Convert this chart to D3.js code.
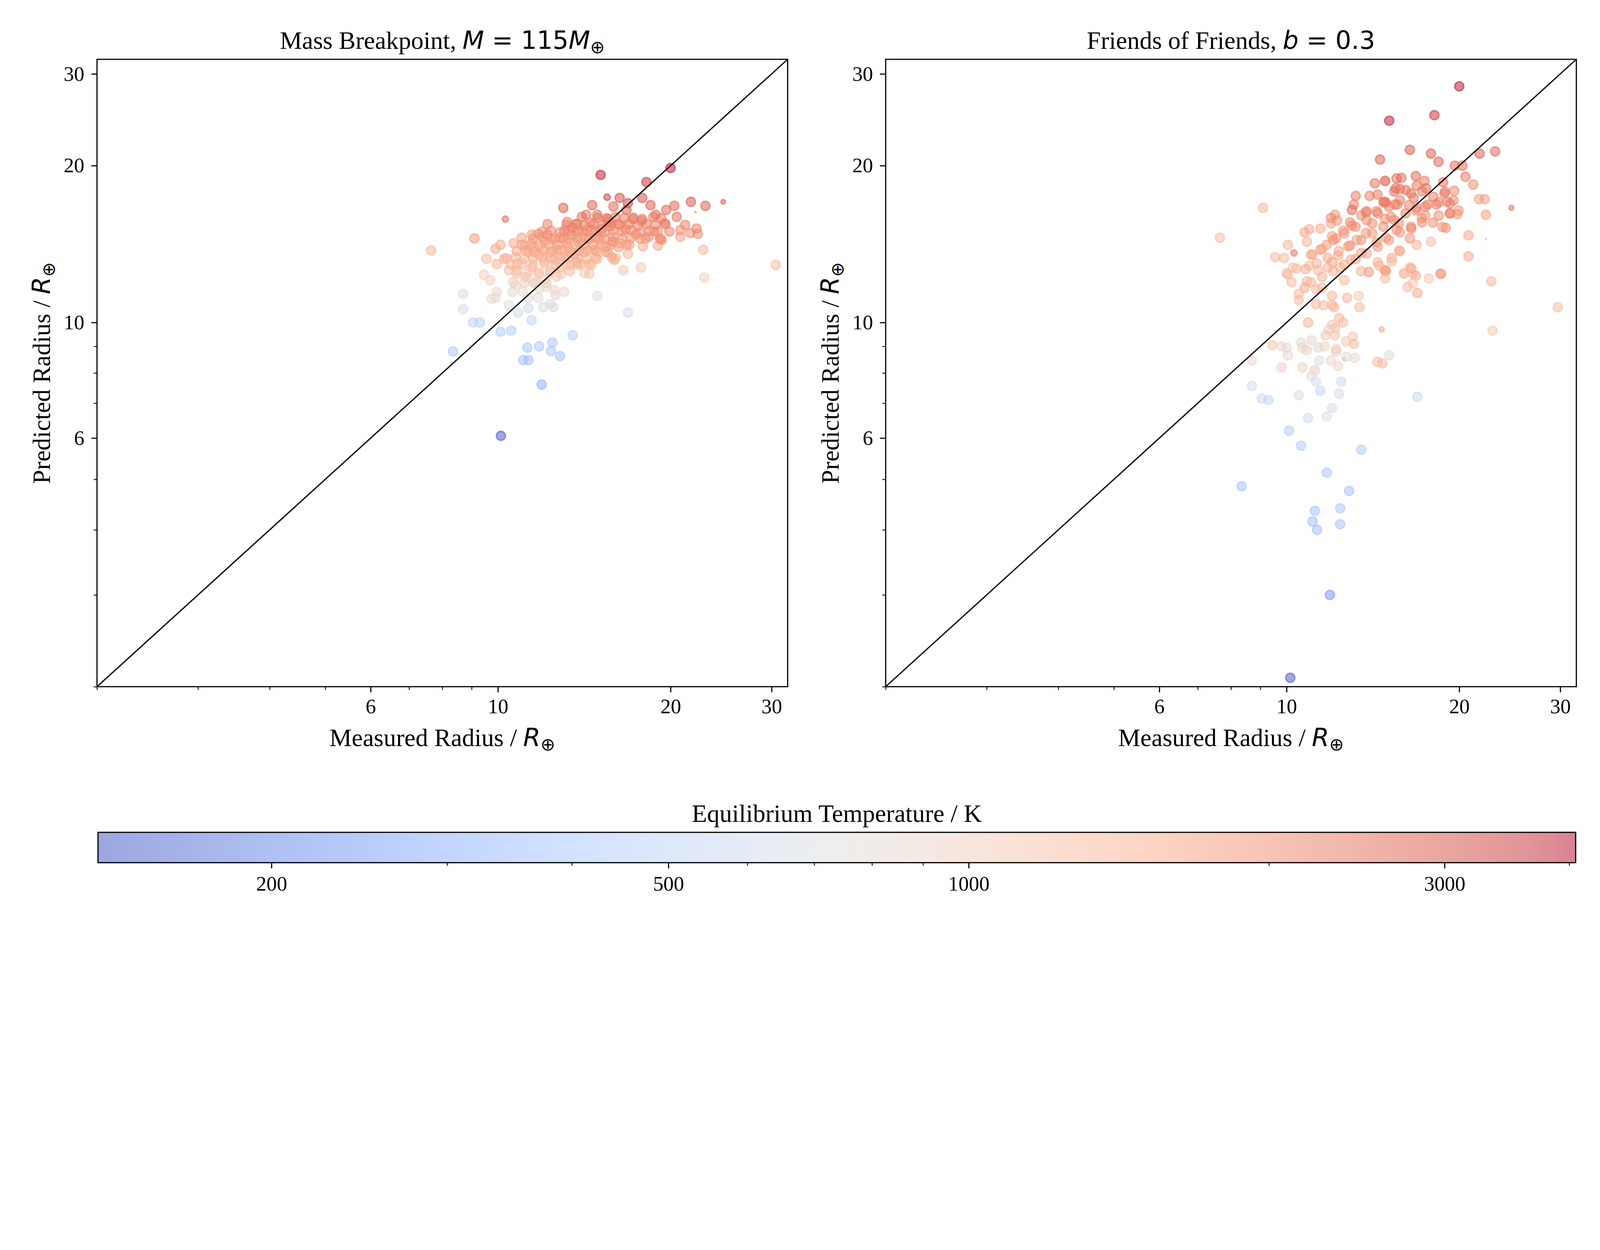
<!DOCTYPE html>
<html>
<head>
<style>
  html, body {
    margin: 0;
    width: 100%;
    height: 100%;
    overflow: hidden;
    background-color: #ffffff;
  }

  svg {
    display: block;
    width: 100vw;
    height: 100vh;
  }

  .serif {
    font-family: 'Liberation Serif', 'Times New Roman', serif;
  }

  .math {
    font-family: 'DejaVu Sans', sans-serif;
  }
</style>
  <script src="https://cdnjs.cloudflare.com/ajax/libs/d3/7.8.5/d3.min.js"></script>
</head>
<body>
<script>
  // axis limits and ticks (radius in Earth radii, temperature in K)
  const radiusLimits = [2, 32];
  const radiusTicks = [6, 10, 20, 30];
  const radiusMinorTicks = [2, 3, 4, 5, 7, 8, 9];
  const teqLimits = [134, 4060];
  const teqTicks = [200, 500, 1000, 3000];
  const teqMinorTicks = [300, 400, 600, 700, 800, 900, 2000, 4000];

  // [measured radius, predicted radius, equilibrium temperature, relative marker size]
  const massBreakpointPlanets = [
    [15.1, 19.2, 3900], [15.5, 17.4, 3400, 0.75], [13.0, 16.6, 2800], [14.6, 16.8, 2800],
    [15.9, 16.7, 2650], [10.3, 15.8, 2650, 0.72], [12.2, 15.45, 2150], [13.2, 15.6, 2150],
    [14.0, 15.95, 2450], [14.25, 16.1, 2450], [14.9, 16.1, 2450], [13.75, 15.45, 2300],
    [13.05, 15.0, 2300], [13.5, 15.2, 2150], [14.5, 15.55, 2150], [9.1, 14.5, 1800],
    [7.65, 13.75, 1400], [10.1, 14.1, 1550], [9.9, 13.85, 1550], [10.65, 14.2, 1550],
    [11.0, 14.55, 1700], [11.45, 14.75, 1700], [11.75, 14.8, 1850], [12.2, 14.75, 2000],
    [9.55, 13.25, 1300], [10.25, 13.25, 1400], [9.95, 12.95, 1400], [10.45, 12.6, 1300],
    [10.8, 12.55, 1300], [10.8, 12.95, 1400], [9.45, 12.35, 1000], [9.7, 12.05, 1000],
    [8.7, 11.35, 820], [8.7, 10.6, 650], [9.05, 10.0, 480], [9.3, 10.0, 480],
    [10.1, 9.6, 430], [10.55, 9.65, 430], [11.45, 10.1, 520], [9.95, 11.45, 850],
    [9.75, 11.1, 800], [9.9, 11.15, 800], [10.45, 10.8, 700], [10.75, 11.8, 850],
    [10.6, 11.45, 830], [11.05, 11.45, 800], [11.25, 12.2, 900], [11.3, 11.15, 780],
    [11.3, 10.65, 650], [10.85, 10.45, 620], [11.75, 11.15, 780], [12.0, 10.7, 680],
    [12.35, 10.85, 700], [12.5, 10.7, 680], [13.05, 11.45, 850], [12.55, 11.55, 870],
    [12.6, 11.3, 860], [14.9, 11.25, 800], [13.5, 9.45, 450], [12.45, 9.15, 400],
    [11.8, 9.0, 400], [11.25, 8.95, 400], [8.35, 8.8, 400],
    [12.05, 14.3, 1850], [12.55, 14.45, 1850], [13.0, 14.5, 2000], [13.45, 14.75, 2150],
    [14.05, 14.95, 2150], [14.6, 15.05, 2150], [15.15, 15.1, 2300], [15.7, 15.3, 2300],
    [15.55, 15.8, 2300], [15.0, 14.45, 2000], [14.4, 14.45, 2000], [13.8, 14.3, 1850],
    [13.25, 13.95, 1700], [12.7, 13.8, 1700], [12.3, 13.65, 1550], [11.8, 13.5, 1500],
    [11.3, 13.65, 1550], [11.15, 14.05, 1550], [11.55, 13.95, 1600], [12.05, 13.1, 1400],
    [12.55, 13.2, 1500], [13.05, 13.35, 1550], [13.6, 13.5, 1600], [14.15, 13.65, 1700],
    [14.75, 13.8, 1750], [15.4, 13.95, 1850], [15.85, 14.3, 2000], [15.8, 13.35, 1550],
    [14.9, 13.25, 1500], [14.55, 12.9, 1400], [13.95, 12.95, 1400], [13.4, 12.9, 1350],
    [12.85, 12.75, 1300], [12.35, 12.55, 1250], [11.8, 12.45, 1150], [11.45, 12.75, 1300],
    [11.15, 12.25, 1000], [11.55, 11.9, 950], [12.05, 12.1, 980], [12.65, 12.25, 1100],
    [13.35, 12.55, 1250], [14.15, 12.45, 1150], [14.45, 12.4, 1150], [15.95, 13.2, 1550],
    [12.15, 11.7, 900], [11.8, 11.6, 880], [13.7, 13.05, 1400],
    [20.0, 19.8, 4000], [18.15, 18.6, 3600], [16.3, 17.35, 3100], [16.85, 16.95, 3200],
    [16.75, 16.45, 2800], [17.85, 17.35, 3100], [18.45, 16.8, 2800], [19.65, 16.45, 2650],
    [20.3, 16.75, 2650], [21.7, 17.05, 2950], [23.0, 16.75, 2800], [24.7, 17.05, 2950, 0.57],
    [22.1, 16.3, 2650, 0.22], [20.5, 15.95, 2450], [18.85, 16.1, 2450], [17.2, 15.8, 2300],
    [17.8, 15.65, 2300], [19.6, 15.45, 2300], [21.2, 15.4, 2150], [22.2, 15.15, 2150],
    [20.8, 15.05, 2000], [21.65, 14.85, 2000], [22.3, 14.8, 2000], [20.8, 14.6, 1700],
    [19.9, 14.95, 2150], [19.2, 14.45, 2000], [18.7, 14.95, 2150], [18.1, 14.5, 2000],
    [17.4, 14.75, 2000], [16.7, 15.1, 2150], [16.2, 15.45, 2150], [15.55, 15.6, 2150],
    [16.95, 14.1, 1700], [17.9, 14.0, 1550], [19.0, 14.05, 1550], [19.3, 14.4, 1850],
    [16.85, 13.55, 1400], [16.05, 13.3, 1400], [22.8, 13.8, 1400], [16.55, 12.6, 1150],
    [17.75, 12.75, 1150], [22.9, 12.2, 1050], [30.5, 12.9, 1300], [16.85, 10.45, 620],
    [15.85, 14.3, 1850], [15.55, 13.65, 1700], [16.25, 13.95, 1750],
    [11.07, 8.47, 380], [11.3, 8.47, 380], [12.37, 8.81, 400], [12.83, 8.62, 380],
    [11.92, 7.6, 300], [10.12, 6.06, 140],
    // dense core of the cloud
    [14.93, 15.9, 2300], [15.47, 15.85, 2300], [16.03, 15.95, 2300], [16.61, 15.85, 2300],
    [17.22, 15.9, 2300], [17.84, 15.8, 2300], [18.66, 15.95, 2300], [19.25, 15.85, 2300],
    [13.17, 15.4, 2150], [13.65, 15.45, 2150], [14.15, 15.35, 2150], [14.66, 15.45, 2150],
    [15.19, 15.4, 2150], [15.75, 15.5, 2150], [16.32, 15.4, 2150], [16.91, 15.45, 2150],
    [17.53, 15.35, 2150], [18.16, 15.45, 2150], [18.82, 15.4, 2150], [19.51, 15.5, 2150],
    [11.94, 14.95, 2000], [12.38, 15.0, 2000], [12.83, 14.9, 2000], [13.29, 15.0, 2000],
    [13.78, 14.95, 2000], [14.28, 15.05, 2000], [14.8, 14.95, 2000], [15.33, 14.9, 2000],
    [15.89, 15.0, 2000], [16.47, 14.95, 2000], [17.06, 15.05, 2000], [17.69, 14.9, 2000],
    [18.33, 15.0, 2000], [19.0, 14.95, 2000],
    [11.52, 14.5, 1850], [11.94, 14.6, 1850], [12.38, 14.5, 1850], [12.83, 14.55, 1850],
    [13.29, 14.5, 1850], [13.78, 14.6, 1850], [14.28, 14.5, 1850], [14.8, 14.55, 1850],
    [15.33, 14.5, 1850], [15.89, 14.6, 1850], [16.47, 14.5, 1850], [17.06, 14.55, 1850],
    [17.69, 14.5, 1850], [18.33, 14.6, 1850], [19.16, 14.5, 1850],
    [11.02, 14.1, 1700], [11.42, 14.15, 1700], [11.84, 14.05, 1700], [12.27, 14.15, 1700],
    [12.71, 14.1, 1700], [13.17, 14.2, 1700], [13.65, 14.1, 1700], [14.15, 14.15, 1700],
    [14.66, 14.05, 1700], [15.19, 14.15, 1700], [15.75, 14.1, 1700], [16.32, 14.2, 1700],
    [16.76, 14.1, 1700],
    [10.78, 13.7, 1600], [11.17, 13.75, 1600], [11.57, 13.65, 1600], [12.0, 13.75, 1600],
    [12.43, 13.7, 1600], [12.88, 13.75, 1600], [13.35, 13.65, 1600], [13.84, 13.7, 1600],
    [14.34, 13.75, 1600], [14.86, 13.7, 1600], [15.4, 13.65, 1600],
    [10.35, 13.3, 1450], [10.73, 13.35, 1450], [11.12, 13.25, 1450], [11.52, 13.3, 1450],
    [11.94, 13.35, 1450], [12.38, 13.3, 1450], [12.83, 13.25, 1450], [13.29, 13.35, 1450],
    [13.78, 13.3, 1450], [14.28, 13.25, 1450], [14.8, 13.35, 1450],
    [10.54, 12.9, 1300], [11.02, 12.95, 1300], [11.52, 12.9, 1300], [12.05, 12.95, 1300],
    [12.6, 12.9, 1300], [13.17, 12.95, 1300], [13.78, 12.9, 1300], [14.41, 12.95, 1300],
    [10.78, 12.4, 1150], [11.27, 12.45, 1150], [11.78, 12.4, 1150], [12.32, 12.45, 1150],
    [12.88, 12.4, 1150],
    [10.63, 11.95, 1000], [11.12, 11.9, 1000], [11.63, 11.95, 1000], [12.16, 11.9, 1000]
  ];

  const friendsOfFriendsPlanets = [
    [15.1, 24.4, 3900], [14.55, 20.55, 2800], [9.1, 16.6, 1400], [7.65, 14.55, 1300],
    [14.25, 18.5, 2450], [14.85, 18.7, 2450], [15.55, 18.9, 2550], [13.2, 17.5, 2300],
    [13.95, 17.5, 2300], [14.4, 17.6, 2300], [13.1, 16.85, 2150], [13.0, 16.45, 2650],
    [12.15, 16.1, 1850], [12.25, 15.7, 1850], [11.95, 15.5, 1700], [11.45, 15.15, 1550],
    [10.95, 15.1, 1550], [10.75, 14.9, 1550], [10.85, 14.3, 1400], [10.05, 14.1, 1400],
    [10.3, 13.6, 2450, 0.72], [9.55, 13.35, 1300], [9.9, 13.3, 1300], [10.25, 12.75, 1150],
    [10.0, 12.45, 1150], [11.1, 13.5, 1400], [11.45, 13.8, 1700], [11.75, 14.1, 1700],
    [12.2, 14.5, 1850], [12.0, 14.65, 1700], [13.0, 15.35, 2000], [12.55, 15.0, 1850],
    [13.5, 16.05, 2000], [13.75, 16.25, 2150], [14.35, 16.35, 2150], [14.9, 17.0, 2300],
    [15.4, 17.85, 2450], [15.45, 16.85, 2150], [14.85, 15.8, 2000], [14.1, 15.5, 2000],
    [13.75, 14.85, 1850], [13.25, 14.4, 1700], [12.8, 14.0, 1700], [12.3, 13.45, 1550],
    [12.0, 13.05, 1550], [12.95, 13.2, 1550], [13.5, 13.6, 1700], [14.35, 14.25, 1850],
    [14.9, 14.55, 1850], [15.55, 15.05, 2000], [15.25, 13.3, 1550], [14.85, 12.6, 1850],
    [13.9, 12.5, 1850], [14.5, 12.85, 1400], [10.95, 12.85, 1300], [11.35, 12.6, 1300],
    [11.8, 12.75, 1400], [12.4, 12.75, 1400],
    [20.0, 28.4, 4000], [18.1, 25.0, 3600], [16.4, 21.45, 2950], [17.85, 21.1, 2800],
    [18.4, 20.35, 2650], [21.7, 21.1, 2800], [23.1, 21.3, 2650], [19.65, 20.0, 2550],
    [20.25, 20.0, 2550], [20.5, 19.05, 2300], [21.15, 18.4, 2000], [19.6, 17.9, 2000],
    [18.75, 18.6, 2450], [18.9, 17.85, 2150], [16.8, 19.1, 2650], [15.85, 18.95, 2550],
    [14.85, 18.7, 2150], [17.4, 18.7, 2300], [15.5, 18.1, 2450], [16.15, 17.95, 2450],
    [17.5, 18.1, 2450], [16.65, 17.35, 2300], [14.8, 17.05, 2450], [15.6, 16.85, 2150],
    [16.35, 16.8, 2150], [17.45, 16.7, 2150], [18.25, 16.85, 2150], [19.05, 17.05, 2150],
    [19.55, 17.15, 2000], [19.95, 16.4, 1850], [19.85, 16.15, 1850], [19.25, 16.2, 2000],
    [21.65, 17.25, 1700], [22.15, 17.25, 1700], [24.65, 16.6, 2450, 0.6], [22.25, 16.1, 1700],
    [18.0, 15.55, 2000], [18.7, 15.25, 1850], [18.95, 15.2, 1850], [20.75, 14.7, 1550],
    [22.25, 14.45, 1850, 0.19], [17.85, 14.3, 1300], [16.85, 14.1, 1400], [20.75, 13.4, 1550],
    [16.4, 14.5, 1850], [15.7, 13.75, 1400], [15.25, 13.1, 1300], [16.4, 12.75, 1300],
    [16.0, 12.45, 1150], [16.6, 12.4, 1150], [18.6, 12.4, 1300], [14.85, 12.6, 1400],
    [16.8, 16.4, 1850], [17.2, 15.85, 1850], [15.7, 15.5, 2000], [16.5, 15.15, 2000],
    [15.2, 15.95, 2000], [17.45, 16.05, 1850],
    [10.4, 12.7, 1300], [10.05, 12.35, 1300], [10.2, 11.95, 1300], [10.85, 12.0, 1400],
    [10.75, 11.65, 1550], [10.5, 11.35, 1300], [10.5, 11.05, 1300], [11.25, 11.6, 1300],
    [11.3, 11.7, 1400, 0.2], [11.25, 10.85, 1400], [11.6, 10.8, 1300], [12.0, 11.25, 1400],
    [12.75, 11.15, 1400], [13.35, 11.25, 1150], [13.4, 10.7, 1300], [12.1, 10.7, 1400],
    [12.0, 10.8, 1300], [10.9, 10.0, 1400], [12.35, 10.2, 1300], [12.55, 10.0, 1300],
    [12.0, 9.9, 1150], [12.15, 9.75, 1200], [11.85, 9.7, 1000], [11.7, 9.45, 1150],
    [12.15, 9.45, 1150], [14.65, 9.7, 1550, 0.63], [13.05, 9.4, 1150], [12.7, 9.2, 1150],
    [13.1, 9.1, 1300], [11.05, 9.25, 850], [10.6, 9.15, 850], [9.45, 9.05, 1150],
    [9.8, 9.0, 850], [10.0, 8.95, 800], [10.65, 8.95, 850], [10.85, 8.85, 950],
    [11.35, 8.95, 800], [11.65, 9.0, 900], [12.2, 8.9, 1000], [12.2, 8.8, 1050],
    [10.05, 8.65, 900], [8.7, 8.45, 850], [11.4, 8.45, 750], [11.95, 8.45, 900],
    [12.7, 8.6, 800], [13.15, 8.55, 800], [12.6, 8.5, 1150, 0.44], [12.3, 8.25, 900],
    [15.1, 8.65, 800], [14.4, 8.4, 1300], [14.7, 8.35, 1300], [9.8, 8.2, 1000],
    [10.65, 8.2, 950], [11.2, 8.1, 1000], [11.05, 7.9, 700], [11.25, 7.7, 650],
    [12.45, 7.7, 650], [8.7, 7.55, 650], [11.45, 7.4, 520], [12.35, 7.3, 680],
    [10.5, 7.25, 700], [9.05, 7.15, 550], [9.3, 7.1, 550], [12.0, 6.85, 650],
    [11.75, 6.6, 720], [10.9, 6.55, 600], [10.1, 6.2, 430], [10.6, 5.8, 430],
    [13.5, 5.7, 420],
    [8.35, 4.85, 380], [11.75, 5.15, 400], [12.85, 4.75, 380], [11.2, 4.35, 380],
    [12.4, 4.4, 400], [11.1, 4.15, 360], [11.3, 4.0, 360], [12.4, 4.1, 380],
    [11.9, 3.0, 230], [10.15, 2.08, 140],
    [14.9, 12.55, 1700], [14.85, 12.15, 1300], [16.05, 12.4, 1300], [16.5, 12.7, 1550],
    [16.8, 12.3, 1550], [16.6, 11.9, 1100], [16.25, 11.7, 1300], [16.9, 11.4, 1550],
    [17.7, 12.15, 1100], [18.55, 12.4, 1850], [22.75, 12.0, 1400], [29.7, 10.7, 1300],
    [22.85, 9.65, 1100], [16.9, 7.2, 550],
    // dense diagonal band
    [10.79, 12.67, 1450], [11.28, 12.99, 1450], [11.79, 13.31, 1600], [12.33, 13.71, 1600],
    [12.9, 14.05, 1850], [13.49, 14.4, 1850], [14.1, 14.83, 1850], [14.75, 15.27, 2000],
    [15.41, 15.73, 2000], [16.12, 16.2, 2150], [16.86, 16.6, 2150], [17.62, 16.84, 2150],
    [18.42, 17.01, 2150], [19.27, 16.93, 2150],
    [11.03, 13.5, 1600], [11.53, 13.84, 1600], [12.06, 14.4, 1850], [12.61, 14.83, 1850],
    [13.19, 15.27, 2000], [13.79, 15.73, 2000], [14.42, 16.2, 2150], [15.08, 16.68, 2150],
    [15.76, 17.18, 2150], [16.48, 17.69, 2300], [17.23, 17.86, 2300], [18.02, 17.43, 2300],
    [18.84, 17.69, 2300],
    [11.03, 11.95, 1300], [11.53, 12.24, 1450], [12.06, 12.55, 1450], [12.61, 12.92, 1450],
    [13.19, 13.24, 1600], [13.79, 13.57, 1600], [14.42, 13.98, 1850], [15.08, 14.4, 1850],
    [15.76, 14.9, 1850], [16.48, 15.27, 2000], [17.23, 15.57, 2000], [18.42, 16.04, 2000],
    [19.27, 16.2, 2150],
    [11.95, 15.88, 2000], [12.9, 15.57, 2000], [13.79, 16.36, 2150], [14.75, 17.01, 2150],
    [15.76, 18.04, 2300], [16.86, 18.31, 2300],
    [11.53, 11.66, 1300], [12.61, 12.06, 1300], [13.49, 12.55, 1450], [14.42, 13.05, 1450],
    [15.76, 13.71, 1600]
  ];

  // matplotlib "coolwarm" (Moreland) anchor colours
  const coolwarm = [
    '#3b4cc0', '#445acc', '#4d68d7', '#5775e1', '#6282ea', '#6c8ef1', '#779af7', '#82a5fb',
    '#8db0fe', '#98b9ff', '#a3c2ff', '#aec9fd', '#b8d0f9', '#c2d5f4', '#ccd9ee', '#d5dbe6',
    '#dddddd', '#e5d8d1', '#ecd3c5', '#f1ccb9', '#f5c4ad', '#f7bba0', '#f7b194', '#f7a687',
    '#f49a7b', '#f18d6f', '#ec7f63', '#e57058', '#de604d', '#d55042', '#cb3e38', '#c0282f',
    '#b40426'
  ];

  const W = 4800, H = 3200;
  const axW = 2072, axH = 1882, axTop = 178;
  const bar = { left: 294, top: 2497, width: 4433, height: 91 };
  const tickFont = 62, labelFont = 75;
  const markerR = 15.9, edgeW = 4.2, alpha = 0.5;

  const panels = [
    {
      left: 291,
      rows: massBreakpointPlanets,
      title: [
        { t: 'Mass Breakpoint, ', cls: 'serif' },
        { t: 'M', cls: 'math', italic: true },
        { t: ' = 115', cls: 'math' },
        { t: 'M', cls: 'math', italic: true },
        { t: '⊕', cls: 'math', sub: true }
      ]
    },
    {
      left: 2657,
      rows: friendsOfFriendsPlanets,
      title: [
        { t: 'Friends of Friends, ', cls: 'serif' },
        { t: 'b', cls: 'math', italic: true },
        { t: ' = 0.3', cls: 'math' }
      ]
    }
  ];

  const radiusLabel = (lead) => [
    { t: lead, cls: 'serif' },
    { t: 'R', cls: 'math', italic: true },
    { t: '⊕', cls: 'math', sub: true }
  ];

  const svg = d3.select('body')
    .append('svg')
    .attr('viewBox', `0 0 ${W} ${H}`)
    .attr('preserveAspectRatio', 'xMidYMin meet');

  svg.append('rect').attr('width', W).attr('height', H).attr('fill', '#ffffff');

  const colorScale = d3.scaleSequentialLog(d3.piecewise(d3.interpolateRgb, coolwarm))
    .domain(teqLimits);

  const x = d3.scaleLog().domain(radiusLimits).range([0, axW]);
  const y = d3.scaleLog().domain(radiusLimits).range([axH, 0]);

  const writeParts = (text, parts, size) => {
    parts.forEach((p) => {
      const span = text.append('tspan')
        .attr('class', p.cls)
        .attr('font-style', p.italic ? 'italic' : 'normal')
        .attr('font-size', p.sub ? size * 0.7 : size)
        .text(p.t);
      if (p.sub) {
        span.attr('dy', size * 0.18);
      }
    });
  };

  const styleAxis = (g, size) => {
    g.select('.domain').remove();
    g.selectAll('.tick line').attr('stroke', '#000').attr('stroke-width', size);
    g.selectAll('.tick text')
      .attr('class', 'serif')
      .attr('font-size', tickFont)
      .attr('fill', '#000');
  };

  svg.append('defs')
    .append('clipPath')
    .attr('id', 'axes-clip')
    .append('rect')
    .attr('width', axW)
    .attr('height', axH);

  panels.forEach((panel) => {
    const g = svg.append('g').attr('transform', `translate(${panel.left},${axTop})`);

    // scatter points
    g.append('g')
      .attr('clip-path', 'url(#axes-clip)')
      .selectAll('circle')
      .data(panel.rows)
      .join('circle')
      .attr('cx', (d) => x(d[0]))
      .attr('cy', (d) => y(d[1]))
      .attr('r', (d) => Math.max(markerR * (d[3] || 1) - edgeW / 2, 0.6))
      .attr('fill', (d) => colorScale(d[2]))
      .attr('fill-opacity', alpha)
      .attr('stroke', (d) => colorScale(d[2]))
      .attr('stroke-opacity', alpha)
      .attr('stroke-width', edgeW);

    // one-to-one line
    g.append('line')
      .attr('x1', x(radiusLimits[0]))
      .attr('y1', y(radiusLimits[0]))
      .attr('x2', x(radiusLimits[1]))
      .attr('y2', y(radiusLimits[1]))
      .attr('stroke', '#000')
      .attr('stroke-width', 3.8);

    // minor ticks
    g.append('g')
      .attr('transform', `translate(0,${axH})`)
      .call(d3.axisBottom(x).tickValues(radiusMinorTicks).tickSize(10).tickFormat(''))
      .call(styleAxis, 2.6);
    g.append('g')
      .call(d3.axisLeft(y).tickValues(radiusMinorTicks).tickSize(10).tickFormat(''))
      .call(styleAxis, 2.6);

    // major ticks
    g.append('g')
      .attr('transform', `translate(0,${axH})`)
      .call(d3.axisBottom(x).tickValues(radiusTicks).tickSize(17).tickPadding(19).tickFormat(d3.format('d')))
      .call(styleAxis, 3.4);
    g.append('g')
      .call(d3.axisLeft(y).tickValues(radiusTicks).tickSize(17).tickPadding(21).tickFormat(d3.format('d')))
      .call(styleAxis, 3.4);

    // frame
    g.append('rect')
      .attr('width', axW)
      .attr('height', axH)
      .attr('fill', 'none')
      .attr('stroke', '#000')
      .attr('stroke-width', 3.5);

    // title
    const title = g.append('text')
      .attr('x', axW / 2)
      .attr('y', 146 - axTop)
      .attr('text-anchor', 'middle')
      .attr('fill', '#000');
    writeParts(title, panel.title, labelFont);

    // axis labels
    const xLabel = g.append('text')
      .attr('x', axW / 2)
      .attr('y', 2238 - axTop)
      .attr('text-anchor', 'middle')
      .attr('fill', '#000');
    writeParts(xLabel, radiusLabel('Measured Radius / '), labelFont);

    const yLabel = g.append('text')
      .attr('transform', `translate(${150 - 291},${axH / 2}) rotate(-90)`)
      .attr('text-anchor', 'middle')
      .attr('fill', '#000');
    writeParts(yLabel, radiusLabel('Predicted Radius / '), labelFont);
  });

  // colour bar
  const gradient = svg.select('defs')
    .append('linearGradient')
    .attr('id', 'teq-gradient')
    .attr('x1', '0%')
    .attr('x2', '100%')
    .attr('y1', '0%')
    .attr('y2', '0%');

  gradient.selectAll('stop')
    .data(coolwarm)
    .join('stop')
    .attr('offset', (d, i) => `${(i / (coolwarm.length - 1)) * 100}%`)
    .attr('stop-color', (d) => d)
    .attr('stop-opacity', alpha);

  const cb = svg.append('g').attr('transform', `translate(${bar.left},${bar.top})`);
  const cx = d3.scaleLog().domain(teqLimits).range([0, bar.width]);

  cb.append('rect')
    .attr('width', bar.width)
    .attr('height', bar.height)
    .attr('fill', 'url(#teq-gradient)');

  cb.append('g')
    .attr('transform', `translate(0,${bar.height})`)
    .call(d3.axisBottom(cx).tickValues(teqMinorTicks).tickSize(9).tickFormat(''))
    .call(styleAxis, 2.6);
  cb.append('g')
    .attr('transform', `translate(0,${bar.height})`)
    .call(d3.axisBottom(cx).tickValues(teqTicks).tickSize(17).tickPadding(23).tickFormat(d3.format('d')))
    .call(styleAxis, 3.4);

  cb.append('rect')
    .attr('width', bar.width)
    .attr('height', bar.height)
    .attr('fill', 'none')
    .attr('stroke', '#000')
    .attr('stroke-width', 3.5);

  cb.append('text')
    .attr('class', 'serif')
    .attr('x', bar.width / 2)
    .attr('y', 2466 - bar.top)
    .attr('text-anchor', 'middle')
    .attr('font-size', labelFont)
    .attr('fill', '#000')
    .text('Equilibrium Temperature / K');
</script>
</body>
</html>
